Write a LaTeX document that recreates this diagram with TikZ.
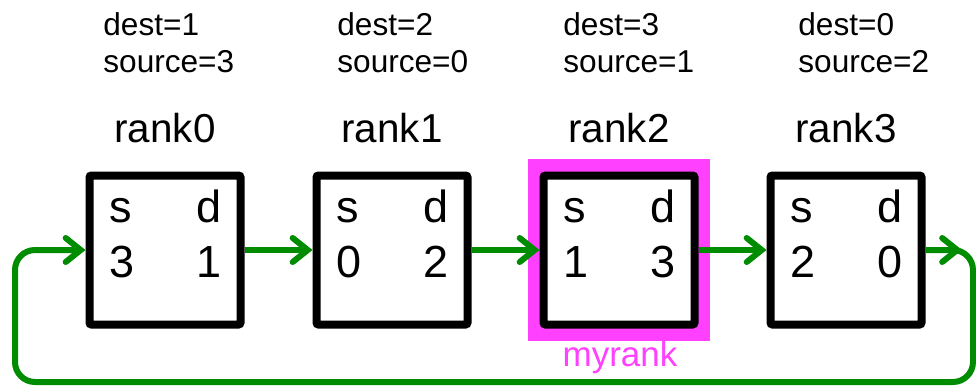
\documentclass[tikz,border=0pt]{standalone}
\usepackage{fontspec}
\setmainfont{Liberation Sans}
\usetikzlibrary{arrows.meta,calc}

\definecolor{ringgreen}{RGB}{0,140,0}
\definecolor{hilite}{RGB}{255,64,255}

\tikzset{
  rankbox/.style={draw=black, line width=4pt, fill=white, rounded corners=1pt,
    minimum width=75.5pt, minimum height=74.5pt, inner sep=0pt},
  cell/.style={inner sep=0pt, font=\fontsize{22.5}{26}\selectfont},
  info/.style={inner sep=0pt, anchor=base west, font=\fontsize{15.8}{19}\selectfont},
  ranklabel/.style={inner sep=0pt, anchor=base, font=\fontsize{20.2}{24}\selectfont},
  flow/.style={draw=ringgreen, line width=3pt,
    -{Straight Barb[length=7.5pt,width=12pt,line cap=round]}},
}

\begin{document}
\begin{tikzpicture}[x=0.5pt, y=-0.5pt]
  % рамка картинки (в пикселях исходника)
  \useasboundingbox (0,0) rectangle (976,386);

  % подсветка myrank
  \fill[hilite] (528,159) rectangle (710,341);

  % ранги: центр x, source, dest, левый край подписи
  \foreach \i/\cx/\src/\dst/\tx in {0/165/3/1/103, 1/392/0/2/337, 2/619/1/3/563, 3/846/2/0/798}{
    \node[rankbox] (r\i) at (\cx,250) {};
    \node[cell, anchor=base west] (s\i) at ($(\cx,222)+(-55.5,0)$) {s};
    \node[cell, anchor=base east] (d\i) at ($(\cx,222)+(57,0)$) {d};
    \node[cell, anchor=base west] (sv\i) at ($(\cx,277)+(-55.5,0)$) {\src};
    \node[cell, anchor=base east] (dv\i) at ($(\cx,277)+(57,0)$) {\dst};
    \node[ranklabel] (lab\i) at (\cx,142) {rank\i};
    \node[info] (dest\i) at (\tx,35) {dest=\dst};
    \node[info] (source\i) at (\tx,72) {source=\src};
  }

  \node[inner sep=0pt, anchor=base, text=hilite, font=\fontsize{17.5}{21}\selectfont] (me) at (620,366) {myrank};

  % сдвиг по кольцу
  \draw[flow] (r0.east) -- (r1.west);
  \draw[flow] (r1.east) -- (r2.west);
  \draw[flow] (r2.east) -- (r3.west);

  \coordinate (outR) at (962,250);
  \coordinate (loopR) at (973,382);
  \coordinate (loopL) at (15,382);
  \draw[flow] (r3.east) -- (outR);
  \draw[flow, rounded corners=10pt] (r3.east) -- (r3.east -| loopR) -- (loopR)
    -- (loopL) -- (r0.west -| loopL) -- (r0.west);
\end{tikzpicture}
\end{document}
